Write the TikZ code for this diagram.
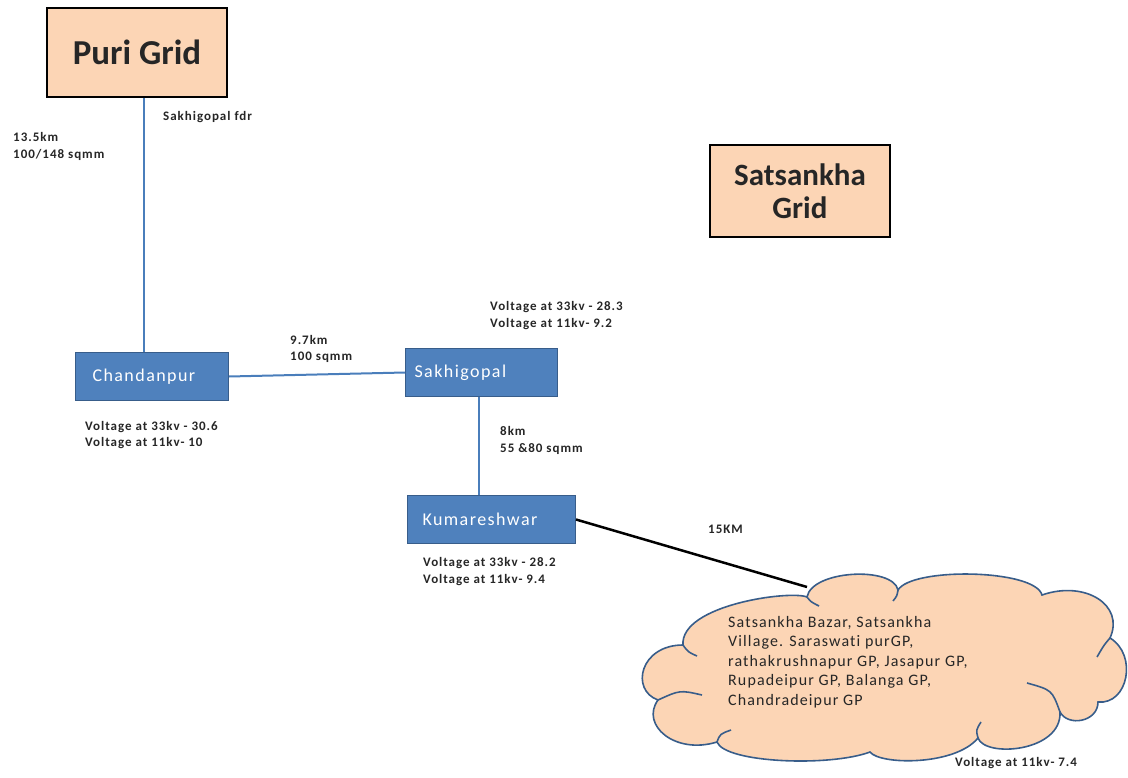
\documentclass[tikz,border=0pt]{standalone}
\usepackage{fontspec}
\setmainfont{Carlito}
\newfontfamily\notefont[LetterSpace=7.5,Ligatures=NoCommon]{Carlito}
\newfontfamily\subfont[LetterSpace=8,Ligatures=NoCommon]{Carlito}
\newfontfamily\cloudfont[LetterSpace=7,Ligatures=NoCommon]{Carlito}
\definecolor{peach}{HTML}{FCD5B5}
\definecolor{subfill}{HTML}{4F81BD}
\definecolor{subdraw}{HTML}{385D8A}
\definecolor{linkblue}{HTML}{4A7EBB}
\definecolor{txt}{HTML}{262626}
\tikzset{
  gridbox/.style={draw=black, line width=2.5pt, fill=peach, text=black!85, align=center, inner sep=0pt},
  subbox/.style={draw=subdraw, line width=1pt, fill=subfill, text=white, font=\subfont\fontsize{18}{20}\selectfont, anchor=north west, inner sep=0pt, minimum height=48pt, align=left},
  note/.style={font=\notefont\bfseries\fontsize{13}{16.5}\selectfont, text=txt, anchor=west, align=left, inner sep=0pt},
  link/.style={draw=linkblue, line width=2pt},
  cloudline/.style={draw=subdraw, line width=1.6pt},
}
\begin{document}
\begin{tikzpicture}[x=1pt,y=-1pt]
\useasboundingbox (0,0) rectangle (1128,778);
% grids
\node[gridbox, minimum width=180pt, minimum height=89pt, font=\bfseries\fontsize{35}{40}\selectfont] (puri) at (137,52.5) {Puri Grid};
\node[gridbox, minimum width=180pt, minimum height=92pt, font=\bfseries\fontsize{31}{33}\selectfont] (sats) at (800,191) {Satsankha\\Grid};
% substations
\node[subbox, minimum width=153pt, text width=153pt] (chan) at (75,352) {\hspace*{17pt}Chandanpur};
\node[subbox, minimum width=152pt, text width=152pt] (sakh) at (405,348) {\hspace*{9pt}Sakhigopal};
\node[subbox, minimum width=168pt, text width=168pt] (kuma) at (407,495) {\hspace*{15pt}Kumareshwar};
% cloud outline
\path[cloudline, fill=peach] (807,597)
  .. controls (812,570) and (893,566) .. (898,590)
  .. controls (912,567) and (1035,569) .. (1042,595)
  .. controls (1085,580) and (1125,605) .. (1110,638)
  .. controls (1138,655) and (1128,705) .. (1098,702)
  .. controls (1098,722) and (1068,727) .. (1060,712)
  .. controls (1062,752) and (985,758) .. (978,738)
  .. controls (955,766) and (880,765) .. (870,752)
  .. controls (830,767) and (725,763) .. (717,742)
  .. controls (675,755) and (640,725) .. (658,700)
  .. controls (630,690) and (640,645) .. (683,645)
  .. controls (680,605) and (790,590) .. (807,597) -- cycle;
% inner curls of the cloud
\draw[cloudline] (807,597) .. controls (811,602) .. (819,606);
\draw[cloudline] (898,590) .. controls (897,596) .. (893,601);
\draw[cloudline] (1110,638) .. controls (1104,645) .. (1097,657);
\draw[cloudline] (1060,712) .. controls (1052,690) .. (1027,683);
\draw[cloudline] (978,738) .. controls (976,730) .. (981,722);
\draw[cloudline] (717,742) .. controls (720,734) .. (731,730);
\draw[cloudline] (658,700) .. controls (680,690) .. (702,695);
\draw[cloudline] (683,645) .. controls (688,652) .. (697,656);
\coordinate (ct) at (807,587);
% connectors
\draw[link] (puri.south -| 144,0) -- (chan.north -| 144,0);
\draw[link] (chan.east) -- (sakh.west);
\draw[link] (sakh.south -| 479,0) -- (kuma.north -| 479,0);
\draw[black, line width=2.5pt] (kuma.east) -- (ct);
% cloud text
\node[anchor=west, align=left, inner sep=0pt, font=\cloudfont\fontsize{16}{19.5}\selectfont, text=txt] (ctext) at (728,662) {Satsankha Bazar, Satsankha\\Village. Saraswati purGP,\\rathakrushnapur GP, Jasapur GP,\\Rupadeipur GP, Balanga GP,\\Chandradeipur GP};
% notes
\node[note] (n1) at (163,117) {Sakhigopal fdr};
\node[note] (n2) at (13,146.5) {13.5km\\100/148 sqmm};
\node[note] (n3) at (290,349) {9.7km\\100 sqmm};
\node[note] (n4) at (490,315.5) {Voltage at 33kv - 28.3\\Voltage at 11kv- 9.2};
\node[note] (n5) at (85,435) {Voltage at 33kv - 30.6\\Voltage at 11kv- 10};
\node[note] (n6) at (500,440.5) {8km\\55 \&80 sqmm};
\node[note] (n7) at (423,571.5) {Voltage at 33kv - 28.2\\Voltage at 11kv- 9.4};
\node[note] (n8) at (708,529) {15KM};
\node[note] (n9) at (955,763) {Voltage at 11kv- 7.4};
\end{tikzpicture}
\end{document}
